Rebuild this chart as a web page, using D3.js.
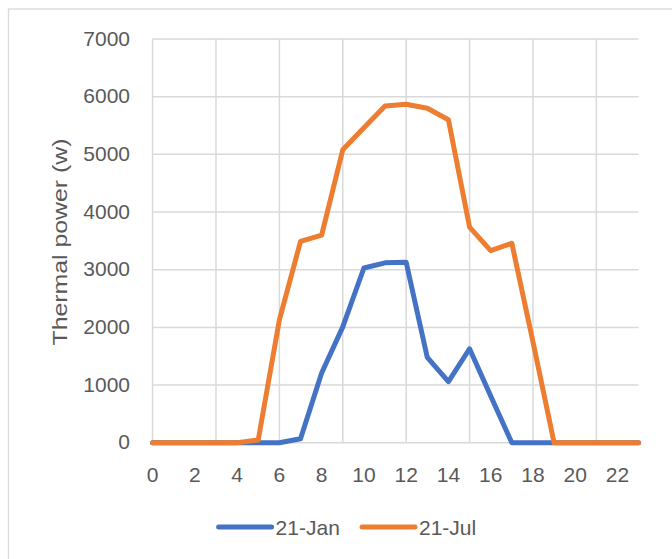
<!DOCTYPE html>
<html lang="en">

<head>
    <meta charset="UTF-8">
    <title>Thermal power</title>
    <script src="https://cdn.jsdelivr.net/npm/d3@7"></script>
    <style>
        body { margin: 0; background: #fff; }
        text { font-family: "Liberation Sans", Arial, sans-serif; fill: #595959; }
    </style>
</head>

<body>
    <svg id="main" width="672" height="559"></svg>
    <script>
        // hourly values
        const hours = d3.range(0, 24);
        const jan = [0, 0, 0, 0, 0, 0, 0, 70, 1210, 2010, 3030, 3120, 3130, 1480, 1060, 1630, 810, 0, 0, 0, 0, 0, 0, 0];
        const jul = [0, 0, 0, 0, 0, 50, 2130, 3490, 3600, 5080, 5460, 5840, 5870, 5800, 5600, 3740, 3330, 3460, 1750, 0, 0, 0, 0, 0];
        const yTicks = [0, 1000, 2000, 3000, 4000, 5000, 6000, 7000];
        const xTicks = [0, 2, 4, 6, 8, 10, 12, 14, 16, 18, 20, 22];
        const xGrid = [0, 3, 6, 9, 12, 15, 18, 21];
        const series = [
            { name: '21-Jan', values: jan, color: '#4472C4' },
            { name: '21-Jul', values: jul, color: '#ED7D31' }
        ];

        const svg = d3.select('#main');

        // chart border
        svg.append('rect')
            .attr('x', 8.5).attr('y', 9)
            .attr('width', 680).attr('height', 570)
            .attr('fill', 'none')
            .attr('stroke', '#d9d9d9')
            .attr('stroke-width', 1.3);

        const x = d3.scaleLinear().domain([0, 23]).range([152.6, 638.6]);
        const y = d3.scaleLinear().domain([0, 7000]).range([442.8, 39]);

        // gridlines
        svg.append('g').selectAll('line').data(yTicks).join('line')
            .attr('x1', x(0)).attr('x2', x(23))
            .attr('y1', d => y(d)).attr('y2', d => y(d))
            .attr('stroke', '#d9d9d9').attr('stroke-width', 1.5);
        svg.append('g').selectAll('line').data(xGrid).join('line')
            .attr('x1', d => x(d)).attr('x2', d => x(d))
            .attr('y1', y(0)).attr('y2', y(7000))
            .attr('stroke', '#d9d9d9').attr('stroke-width', 1.5);

        // axis labels
        svg.append('g').selectAll('text').data(yTicks).join('text')
            .attr('x', 130).attr('y', d => y(d) + 6.5)
            .attr('text-anchor', 'end')
            .attr('font-size', 21)
            .text(d => d);
        svg.append('g').selectAll('text').data(xTicks).join('text')
            .attr('x', d => x(d)).attr('y', 482)
            .attr('text-anchor', 'middle')
            .attr('font-size', 21)
            .text(d => d);

        svg.append('text')
            .attr('transform', 'translate(67,242) rotate(-90)')
            .attr('text-anchor', 'middle')
            .attr('font-size', 20)
            .attr('textLength', 207)
            .attr('lengthAdjust', 'spacingAndGlyphs')
            .text('Thermal power (w)');

        // lines
        const line = d3.line()
            .x((d, i) => x(hours[i]))
            .y(d => y(d));

        svg.append('g').selectAll('path').data(series).join('path')
            .attr('d', d => line(d.values))
            .attr('fill', 'none')
            .attr('stroke', d => d.color)
            .attr('stroke-width', 5)
            .attr('stroke-linejoin', 'round')
            .attr('stroke-linecap', 'round');

        // legend
        const legendX = [218.6, 362];
        const lg = svg.append('g').selectAll('g').data(series).join('g')
            .attr('transform', (d, i) => `translate(${legendX[i]},527)`);
        lg.append('line')
            .attr('x1', 0).attr('x2', 53)
            .attr('stroke', d => d.color)
            .attr('stroke-width', 5)
            .attr('stroke-linecap', 'round');
        lg.append('text')
            .attr('x', 57).attr('y', 7.5)
            .attr('font-size', 21)
            .text(d => d.name);
    </script>
</body>

</html>
